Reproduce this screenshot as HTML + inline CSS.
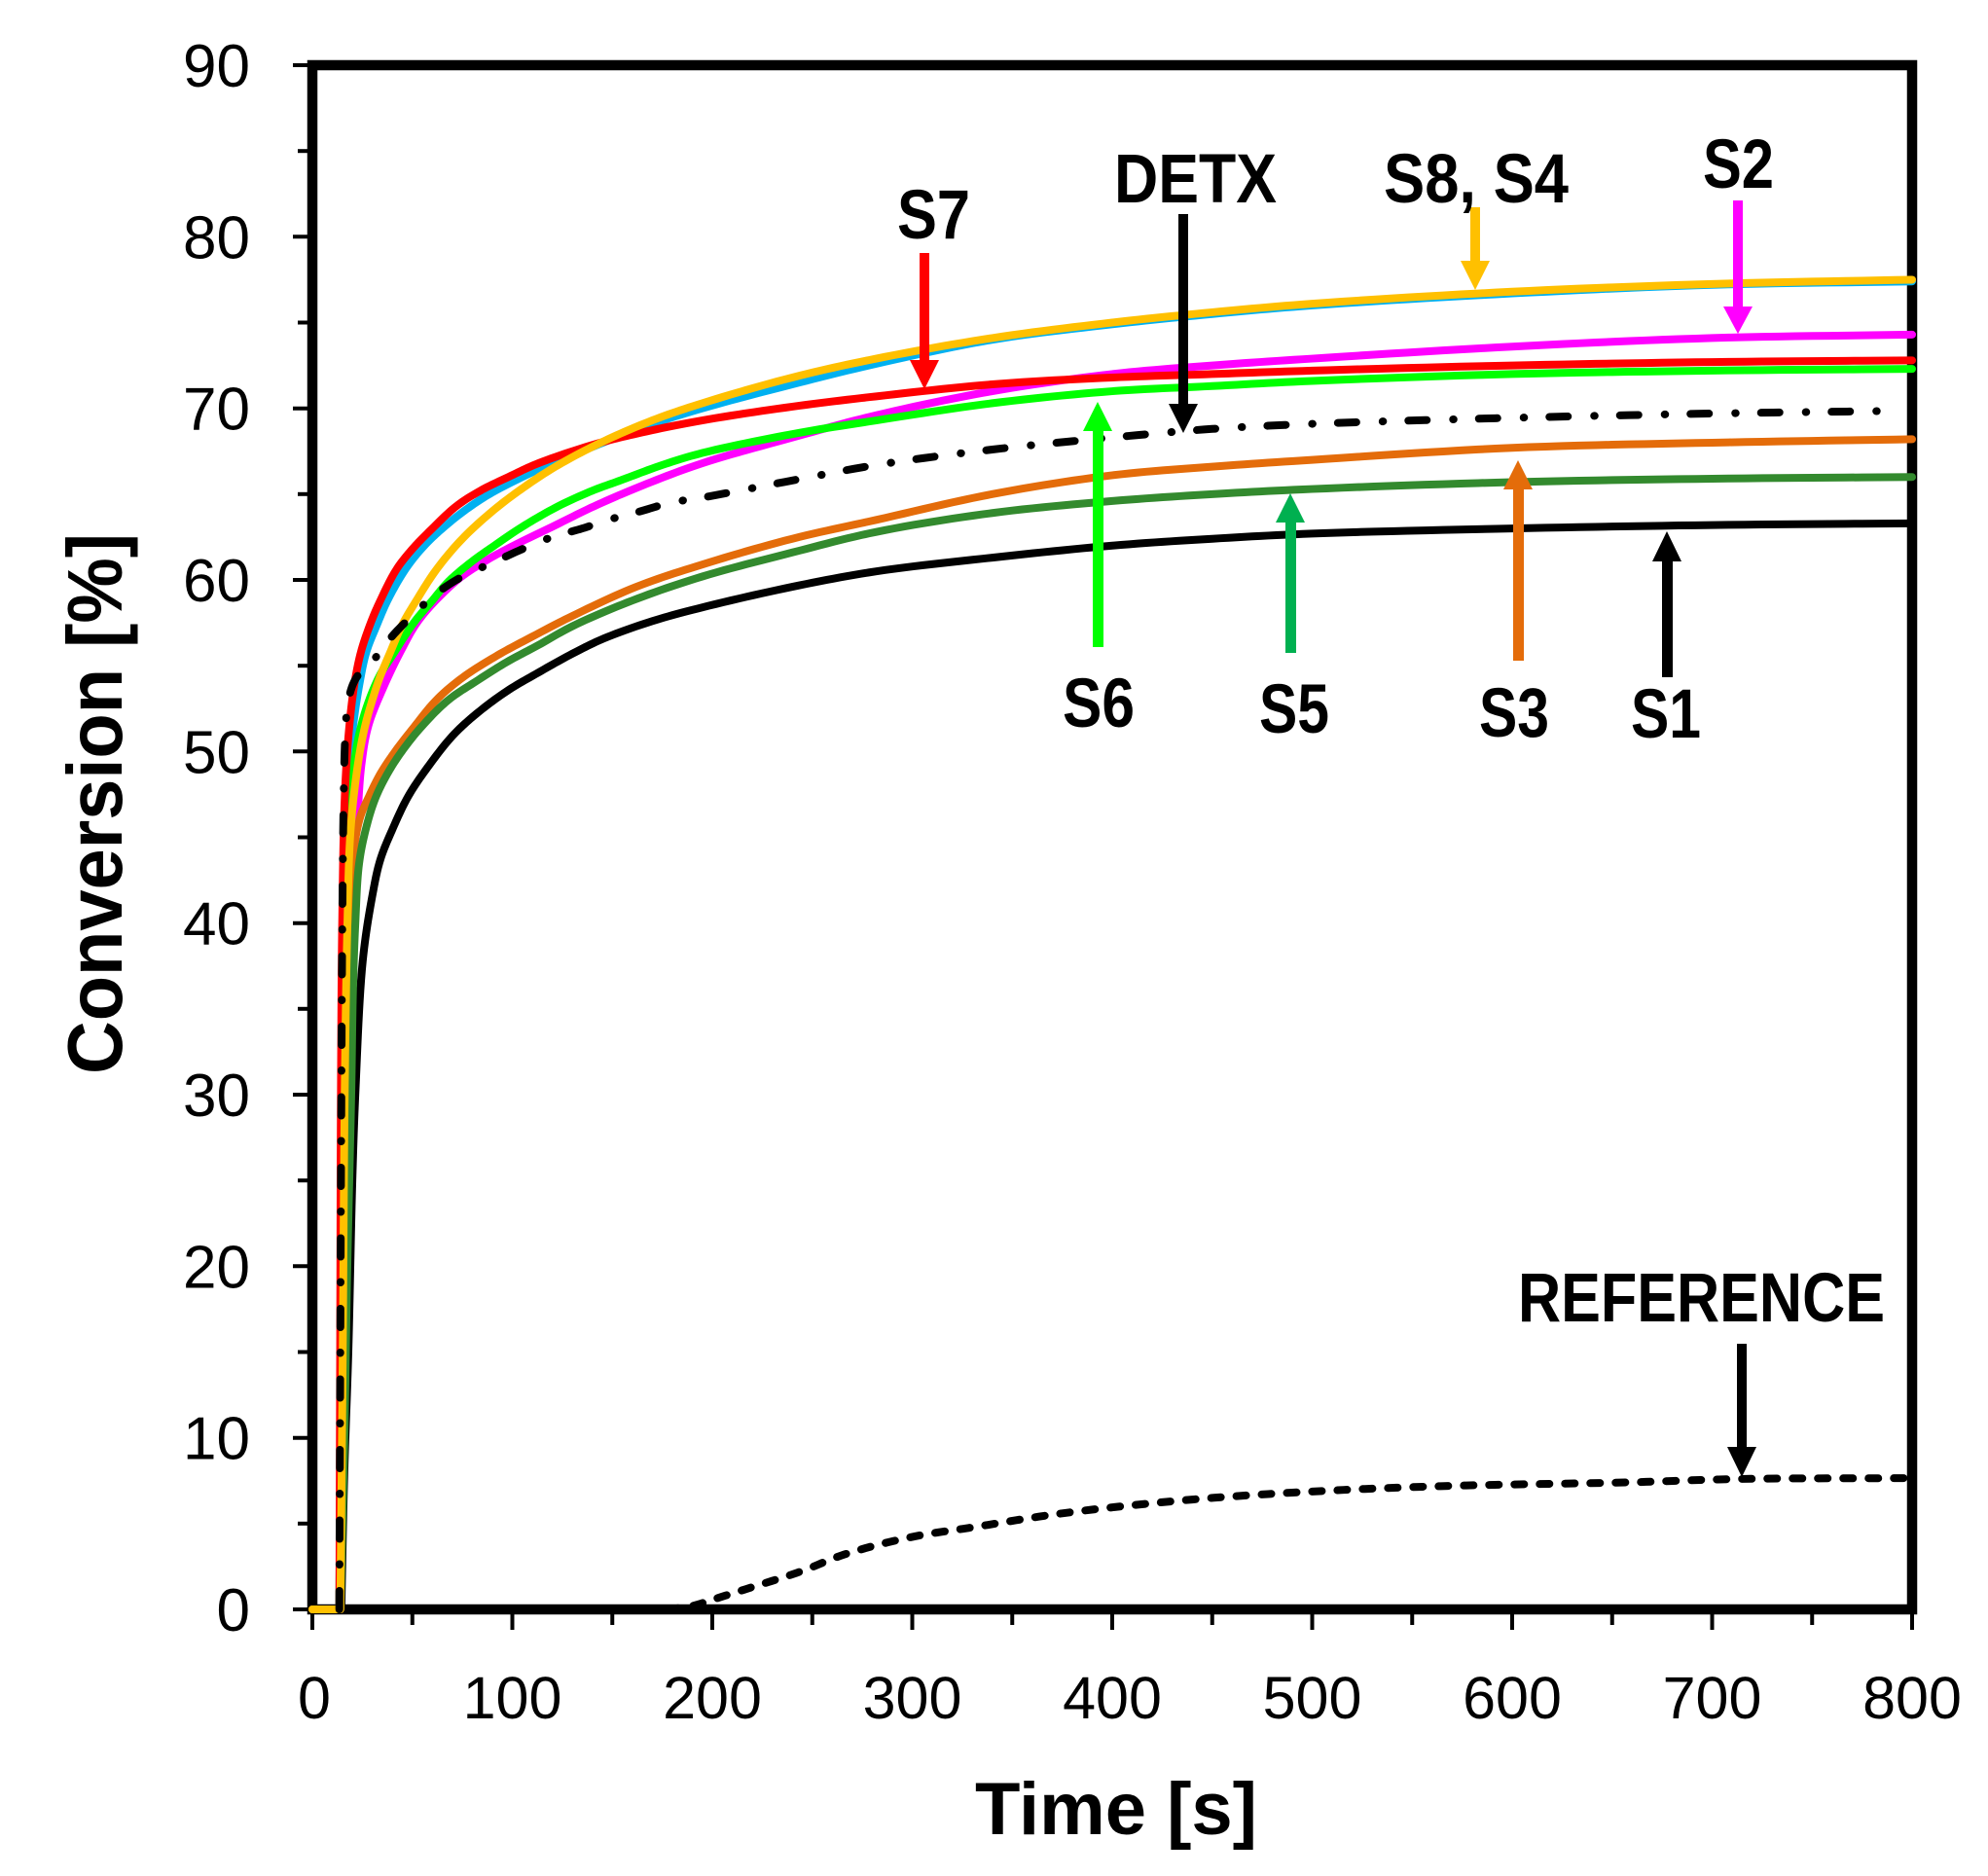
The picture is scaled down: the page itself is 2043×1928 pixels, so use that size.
<!DOCTYPE html>
<html>
<head>
<meta charset="utf-8">
<style>
html,body{margin:0;padding:0;background:#fff;}
svg{display:block}
</style>
</head>
<body>
<svg id="chart" width="2043" height="1928" viewBox="0 0 2043 1928" xmlns="http://www.w3.org/2000/svg" font-family="'Liberation Sans', Arial, sans-serif">
<rect x="0" y="0" width="2043" height="1928" fill="#fff"/>

<!-- Y ticks -->
<g stroke="#000" stroke-width="4">
  <line x1="301" y1="67" x2="321" y2="67"/>
  <line x1="306" y1="155.2" x2="321" y2="155.2"/>
  <line x1="301" y1="243.3" x2="321" y2="243.3"/>
  <line x1="306" y1="331.5" x2="321" y2="331.5"/>
  <line x1="301" y1="419.7" x2="321" y2="419.7"/>
  <line x1="306" y1="507.8" x2="321" y2="507.8"/>
  <line x1="301" y1="596" x2="321" y2="596"/>
  <line x1="306" y1="684.2" x2="321" y2="684.2"/>
  <line x1="301" y1="772.3" x2="321" y2="772.3"/>
  <line x1="306" y1="860.5" x2="321" y2="860.5"/>
  <line x1="301" y1="948.7" x2="321" y2="948.7"/>
  <line x1="306" y1="1036.8" x2="321" y2="1036.8"/>
  <line x1="301" y1="1125" x2="321" y2="1125"/>
  <line x1="306" y1="1213.2" x2="321" y2="1213.2"/>
  <line x1="301" y1="1301.3" x2="321" y2="1301.3"/>
  <line x1="306" y1="1389.5" x2="321" y2="1389.5"/>
  <line x1="301" y1="1477.7" x2="321" y2="1477.7"/>
  <line x1="306" y1="1565.8" x2="321" y2="1565.8"/>
  <line x1="301" y1="1654" x2="321" y2="1654"/>
</g>
<!-- X ticks -->
<g stroke="#000" stroke-width="4">
  <line x1="321" y1="1654" x2="321" y2="1675"/>
  <line x1="423.75" y1="1654" x2="423.75" y2="1670"/>
  <line x1="526.5" y1="1654" x2="526.5" y2="1675"/>
  <line x1="629.25" y1="1654" x2="629.25" y2="1670"/>
  <line x1="732" y1="1654" x2="732" y2="1675"/>
  <line x1="834.75" y1="1654" x2="834.75" y2="1670"/>
  <line x1="937.5" y1="1654" x2="937.5" y2="1675"/>
  <line x1="1040.25" y1="1654" x2="1040.25" y2="1670"/>
  <line x1="1143" y1="1654" x2="1143" y2="1675"/>
  <line x1="1245.75" y1="1654" x2="1245.75" y2="1670"/>
  <line x1="1348.5" y1="1654" x2="1348.5" y2="1675"/>
  <line x1="1451.25" y1="1654" x2="1451.25" y2="1670"/>
  <line x1="1554" y1="1654" x2="1554" y2="1675"/>
  <line x1="1656.75" y1="1654" x2="1656.75" y2="1670"/>
  <line x1="1759.5" y1="1654" x2="1759.5" y2="1675"/>
  <line x1="1862.25" y1="1654" x2="1862.25" y2="1670"/>
  <line x1="1965" y1="1654" x2="1965" y2="1675"/>
</g>

<!-- Plot frame -->
<rect x="321" y="67" width="1644" height="1587" fill="none" stroke="#000" stroke-width="10.5"/>

<!-- Y tick labels -->
<g font-size="62" fill="#000" text-anchor="end">
  <text x="257" y="89">90</text>
  <text x="257" y="265.3">80</text>
  <text x="257" y="441.7">70</text>
  <text x="257" y="618">60</text>
  <text x="257" y="794.3">50</text>
  <text x="257" y="970.7">40</text>
  <text x="257" y="1147">30</text>
  <text x="257" y="1323.3">20</text>
  <text x="257" y="1499.7">10</text>
  <text x="257" y="1676">0</text>
</g>
<!-- X tick labels -->
<g font-size="61" fill="#000" text-anchor="middle">
  <text x="323" y="1766">0</text>
  <text x="526.5" y="1766">100</text>
  <text x="732" y="1766">200</text>
  <text x="937.5" y="1766">300</text>
  <text x="1143" y="1766">400</text>
  <text x="1348.5" y="1766">500</text>
  <text x="1554" y="1766">600</text>
  <text x="1759.5" y="1766">700</text>
  <text x="1965" y="1766">800</text>
</g>

<!-- Axis titles -->
<text x="1002" y="1885" font-size="76" font-weight="bold" textLength="290" lengthAdjust="spacingAndGlyphs">Time [s]</text>
<text transform="translate(125 826) rotate(-90)" x="0" y="0" text-anchor="middle" font-size="80" font-weight="bold" textLength="556" lengthAdjust="spacingAndGlyphs">Conversion [%]</text>

<!-- Curves -->
<g id="curves" transform="translate(321 1654) scale(2.055 -17.633)" fill="none" stroke-linejoin="round" stroke-linecap="round">
  <!-- S1 black -->
  <polyline class="sm" vector-effect="non-scaling-stroke" stroke="#000000" stroke-width="8" points="0,0 14.5,0 16,8 18,15 20,25 21.6,30.3 25.2,37.8 30,41.6 34,43.7 39.8,45.4 48,47.4 58.4,49.2 70,50.9 81,52.1 97,53.5 113,54.6 130,55.7 146,56.6 170,57.6 195,58.4 240,59.6 282,60.5 340,61.3 400,62.0 450,62.4 500,62.7 600,63.0 700,63.2 800,63.3"/>
  <!-- S2 magenta -->
  <polyline class="sm" vector-effect="non-scaling-stroke" stroke="#FF00FF" stroke-width="8" points="0,0 14,0 15.5,20 16,30 17,38 18.5,42 22,45.4 24.5,49.2 28,51.5 35,53.6 44,55.8 53.5,57.7 71.5,59.9 85,61.0 100.6,62.0 120,63.1 141,64.3 165,65.5 195,66.8 240,68.3 282,69.6 340,71.0 400,72.0 450,72.5 500,72.9 600,73.6 700,74.1 800,74.3"/>
  <!-- S3 orange -->
  <polyline class="sm" vector-effect="non-scaling-stroke" stroke="#E46C0A" stroke-width="8" points="0,0 14,0 15.5,20 16.5,30 18,38 19.5,42 21,44.5 24,46.2 28,47.3 34,48.7 42,50.1 50,51.3 62,53.0 75,54.3 92.5,55.6 110,56.7 130,57.9 162,59.6 195,60.9 240,62.4 282,63.5 340,65.0 400,66.1 450,66.6 500,67.0 600,67.7 700,68.0 800,68.2"/>
  <!-- S4 blue -->
  <polyline class="sm" vector-effect="non-scaling-stroke" stroke="#00B0F0" stroke-width="8" points="0,0 13.5,0 14.5,20 15,30 15.8,40 17.5,47.3 20,51.1 23.5,53.9 27,55.8 32,57.3 38,58.9 47,60.7 56,62.0 66,63.1 78,64.2 90,65.1 116,66.6 141,67.8 165,68.9 195,70.0 240,71.4 282,72.6 340,74.0 400,74.9 450,75.5 500,76.0 600,76.7 700,77.2 800,77.4"/>
  <!-- S5 dark green -->
  <polyline class="sm" vector-effect="non-scaling-stroke" stroke="#338A2E" stroke-width="8" points="0,0 14,0 16,10 17.5,20 19.5,30.3 20.3,36 21.5,40 23.4,43.5 27,45.6 31.6,47.3 38,48.8 45.3,50.1 55,51.5 68,53.0 82,54.1 97,55.2 113,56.2 130,57.3 160,58.8 195,60.2 240,61.6 282,62.8 340,63.9 400,64.6 450,65.0 500,65.3 600,65.7 700,65.9 800,66.0"/>
  <!-- S6 green -->
  <polyline class="sm" vector-effect="non-scaling-stroke" stroke="#00FF00" stroke-width="8" points="0,0 13.5,0 14.5,20 15,30 16,40 18,45.4 20.8,49.2 24,51.3 28.4,53.0 34,54.5 40,55.6 46,56.7 52,57.7 60,58.8 68,59.9 79,61.0 91,62.0 105,63.1 123,64.3 140,65.2 154,65.8 175,66.7 195,67.4 240,68.5 282,69.3 340,70.3 400,71.0 450,71.3 500,71.6 600,72.0 700,72.2 800,72.3"/>
  <!-- S7 red -->
  <polyline class="sm" vector-effect="non-scaling-stroke" stroke="#FF0000" stroke-width="8" points="0,0 13.5,0 13.9,15 14.3,30.3 14.9,39.8 16.2,47.3 18.2,51.1 21,53.9 24.3,55.8 29.2,57.5 34,58.8 42,60.6 50,61.8 60,63.0 72,64.3 84,65.2 98,66.0 113,66.8 141,67.9 165,68.6 195,69.3 240,70.1 282,70.7 340,71.4 400,71.8 450,72.0 500,72.2 600,72.5 700,72.7 800,72.8"/>
  <!-- S8 yellow -->
  <polyline class="sm" vector-effect="non-scaling-stroke" stroke="#FFC000" stroke-width="8" points="0,0 14,0 15.2,15 16.2,30.3 17.5,39.8 19.1,45.4 22.7,49.2 26,51.3 30,53.0 34,54.4 39,55.8 45,57.4 52,58.8 62,60.6 75,62.4 91,64.1 107,65.5 123,66.7 146,68.1 170,69.3 195,70.3 240,71.8 282,72.9 340,74.1 400,75.0 450,75.6 500,76.1 600,76.8 700,77.25 800,77.5"/>
</g>

<!-- DETX dash-dot -->
<polyline class="smp" fill="none" stroke="#000" stroke-width="8" stroke-linecap="round" stroke-linejoin="round" stroke-dasharray="19 27 0.5 26"
  points="348.7,1654 350.8,1125 351.8,948.7 353.1,825.2 354.9,754.7 358,719.5 366.2,696.5 384.7,677.3 401.1,656 419.6,636.6 448.4,610.1 475.1,592.5 506,578.4 540.9,562.5 567.6,551.9 598.4,543.1 625.1,534.3 658,525.5 688.8,516.7 721.7,511.4 814.2,493.8 900.5,477.9 1019.7,462 1143,449.6 1245.8,440.8 1348.5,435.6 1554,429.4 1759.5,425 1944.5,422.3"/>

<!-- REFERENCE dashed -->
<polyline class="smp" fill="none" stroke="#000" stroke-width="8" stroke-linecap="round" stroke-linejoin="round" stroke-dasharray="10 16"
  points="686.8,1654 711.5,1650.5 734.1,1643.4 773.1,1631.1 822.4,1615.2 867.6,1597.6 935.4,1579.9 1001.2,1569.4 1091.6,1555.3 1225.2,1541.1 1358.8,1532.3 1492.4,1527 1671.1,1523.5 1786.2,1520 1956.8,1519.1"/>

<!-- Arrows (down) -->
<g>
  <rect x="945" y="260" width="10" height="112" fill="#FF0000"/>
  <polygon points="935,370 965,370 950,400" fill="#FF0000"/>

  <rect x="1211" y="220" width="10" height="197" fill="#000"/>
  <polygon points="1201,415 1231,415 1216,445" fill="#000"/>

  <rect x="1511" y="213" width="10" height="57" fill="#FFC000"/>
  <polygon points="1501,268 1531,268 1516,298" fill="#FFC000"/>

  <rect x="1781" y="206" width="10" height="111" fill="#FF00FF"/>
  <polygon points="1771,315 1801,315 1786,343" fill="#FF00FF"/>

  <rect x="1785" y="1381" width="10" height="108" fill="#000"/>
  <polygon points="1775,1487 1805,1487 1790,1518" fill="#000"/>
</g>
<!-- Arrows (up) -->
<g>
  <rect x="1123" y="441" width="11" height="224" fill="#00FF00"/>
  <polygon points="1113,443 1143,443 1128,413" fill="#00FF00"/>

  <rect x="1321" y="535" width="11" height="136" fill="#00B050"/>
  <polygon points="1311,537 1341,537 1326,507" fill="#00B050"/>

  <rect x="1555" y="501" width="11" height="178" fill="#E46C0A"/>
  <polygon points="1545,503 1575,503 1560,473" fill="#E46C0A"/>

  <rect x="1708" y="575" width="11" height="121" fill="#000"/>
  <polygon points="1698,577 1728,577 1713,546" fill="#000"/>
</g>

<!-- Labels -->
<g font-size="71" font-weight="bold" fill="#000">
  <text x="922" y="245" textLength="75" lengthAdjust="spacingAndGlyphs">S7</text>
  <text x="1145" y="208" textLength="167" lengthAdjust="spacingAndGlyphs">DETX</text>
  <text x="1422" y="208" textLength="190" lengthAdjust="spacingAndGlyphs">S8, S4</text>
  <text x="1750" y="193" textLength="73" lengthAdjust="spacingAndGlyphs">S2</text>
  <text x="1092" y="747" textLength="74" lengthAdjust="spacingAndGlyphs">S6</text>
  <text x="1294" y="753" textLength="72" lengthAdjust="spacingAndGlyphs">S5</text>
  <text x="1520" y="757" textLength="72" lengthAdjust="spacingAndGlyphs">S3</text>
  <text x="1676" y="758" textLength="72" lengthAdjust="spacingAndGlyphs">S1</text>
  <text x="1560" y="1358" textLength="377" lengthAdjust="spacingAndGlyphs">REFERENCE</text>
</g>
</svg>
<script>
(function(){
  function parse(s){
    var a=s.trim().split(/\s+/), r=[];
    for(var i=0;i<a.length;i++){var p=a[i].split(',');r.push([parseFloat(p[0]),parseFloat(p[1])]);}
    return r;
  }
  function dist(a,b){var dx=b[0]-a[0],dy=b[1]-a[1];return Math.pow(Math.sqrt(dx*dx+dy*dy),0.5)||1e-4;}
  function lerp(a,b,ta,tb,t){var d=tb-ta;if(Math.abs(d)<1e-9)return [a[0],a[1]];var u=(t-ta)/d;return [a[0]+(b[0]-a[0])*u,a[1]+(b[1]-a[1])*u];}
  function cr(pts,steps){
    var n=pts.length; if(n<3) return pts.slice();
    var out=[pts[0]];
    for(var i=0;i<n-1;i++){
      var p1=pts[i],p2=pts[i+1];
      var p0=i>0?pts[i-1]:[2*p1[0]-p2[0],2*p1[1]-p2[1]];
      var p3=i+2<n?pts[i+2]:[2*p2[0]-p1[0],2*p2[1]-p1[1]];
      var t0=0,t1=t0+dist(p0,p1),t2=t1+dist(p1,p2),t3=t2+dist(p2,p3);
      for(var k=1;k<=steps;k++){
        var t=t1+(t2-t1)*k/steps;
        var A1=lerp(p0,p1,t0,t1,t),A2=lerp(p1,p2,t1,t2,t),A3=lerp(p2,p3,t2,t3,t);
        var B1=lerp(A1,A2,t0,t2,t),B2=lerp(A2,A3,t1,t3,t);
        out.push(lerp(B1,B2,t1,t2,t));
      }
    }
    return out;
  }
  function fmt(a){return a.map(function(p){return p[0].toFixed(3)+','+p[1].toFixed(3);}).join(' ');}
  try{
    var sm=document.querySelectorAll('polyline.sm');
    for(var i=0;i<sm.length;i++){
      var d=parse(sm[i].getAttribute('points'));
      var px=d.map(function(p){return [321+2.055*p[0],1654-17.633*p[1]];});
      var rest=cr(px.slice(1),12);
      var all=[px[0]].concat(rest);
      var back=all.map(function(p){return [(p[0]-321)/2.055,(1654-p[1])/17.633];});
      sm[i].setAttribute('points',fmt(back));
    }
    var sp=document.querySelectorAll('polyline.smp');
    for(var j=0;j<sp.length;j++){
      var q=parse(sp[j].getAttribute('points'));
      sp[j].setAttribute('points',fmt(cr(q,12)));
    }
  }catch(e){}
})();
</script>
</body>
</html>
